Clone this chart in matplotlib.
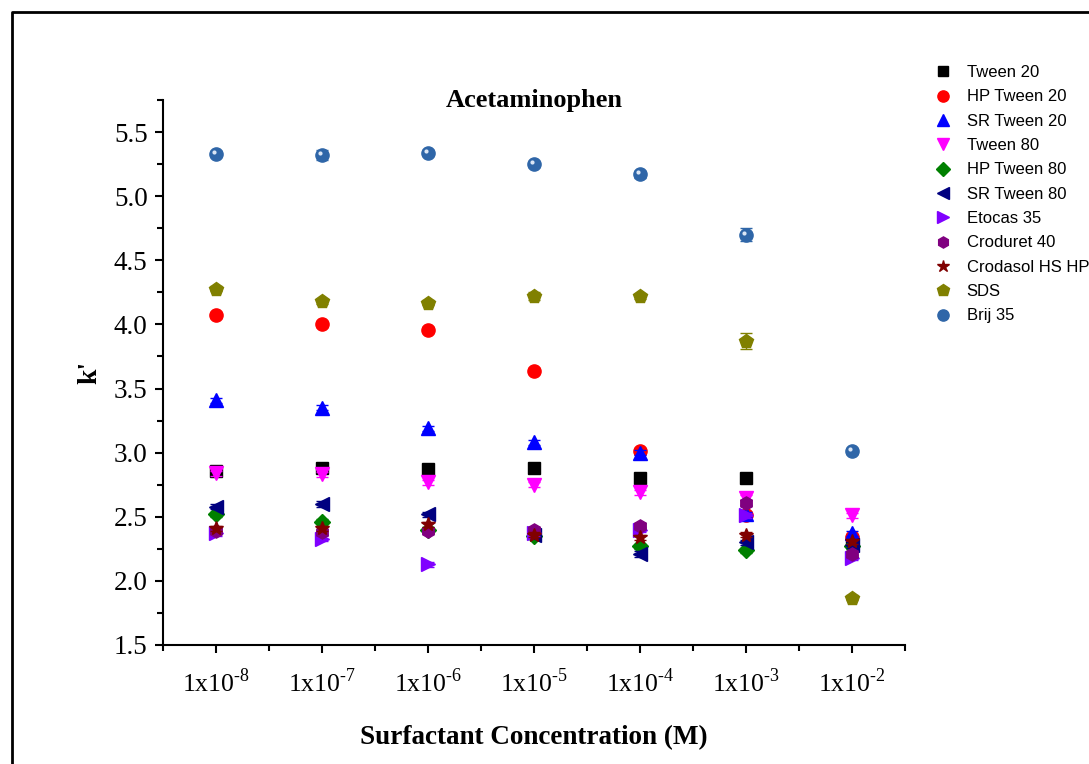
import numpy as np
import matplotlib
matplotlib.use("Agg")
import matplotlib.pyplot as plt
from matplotlib.lines import Line2D

plt.rcParams['font.family'] = ['Liberation Serif', 'DejaVu Serif']
plt.rcParams['mathtext.fontset'] = 'custom'
plt.rcParams['mathtext.rm'] = 'Liberation Serif'

conc_labels = [r'1x10$^{\text{-}8}$', r'1x10$^{\text{-}7}$', r'1x10$^{\text{-}6}$',
               r'1x10$^{\text{-}5}$', r'1x10$^{\text{-}4}$', r'1x10$^{\text{-}3}$',
               r'1x10$^{\text{-}2}$']
xpos = np.arange(1, 8)

names = ['Tween 20', 'HP Tween 20', 'SR Tween 20', 'Tween 80', 'HP Tween 80',
         'SR Tween 80', 'Etocas 35', 'Croduret 40', 'Crodasol HS HP', 'SDS', 'Brij 35']

tween20 = [2.86, 2.88, 2.875, 2.88, 2.80, 2.80, 2.30]
hp_tween20 = [4.07, 4.00, 3.96, 3.64, 3.01, 2.51, 2.34]
sr_tween20 = [3.41, 3.35, 3.19, 3.08, 3.00, 2.52, 2.37]
tween80 = [2.84, 2.83, 2.77, 2.75, 2.69, 2.65, 2.51]
hp_tween80 = [2.52, 2.46, 2.40, 2.35, 2.27, 2.24, 2.27]
sr_tween80 = [2.58, 2.60, 2.52, 2.36, 2.21, 2.30, 2.28]
etocas35 = [2.37, 2.33, 2.13, 2.37, 2.40, 2.51, 2.18]
croduret40 = [2.39, 2.38, 2.39, 2.40, 2.43, 2.61, 2.21]
crodasol = [2.41, 2.41, 2.44, 2.36, 2.34, 2.36, 2.31]
sds = [4.28, 4.18, 4.17, 4.22, 4.22, 3.87, 1.87]
brij35 = [5.33, 5.32, 5.34, 5.25, 5.17, 4.70, 3.01]

err_small = [0.02, 0.02, 0.02, 0.02, 0.02, 0.02, 0.02]
brij_err = [0.02, 0.04, 0.02, 0.02, 0.03, 0.05, 0.02]
sds_err = [0.02, 0.02, 0.02, 0.03, 0.02, 0.06, 0.02]

series = [tween20, hp_tween20, sr_tween20, tween80, hp_tween80, sr_tween80,
          etocas35, croduret40, crodasol, sds, brij35]
errs = [err_small] * 9 + [sds_err, brij_err]
markers = ['s', 'o', '^', 'v', 'D', '<', '>', 'h', '*', 'p', 'o']
colors = ['#000000', '#ff0000', '#0000ff', '#ff00ff', '#008000', '#000080',
          '#8000ff', '#800080', '#800000', '#808000', '#2f66a8']
sizes = [8.5, 9.5, 9.5, 9.5, 8, 9.5, 9.5, 9.5, 10.5, 10.5, 9.5]

fig = plt.figure(figsize=(10.89, 7.64), dpi=100)
ax = fig.add_axes([163/1089, 1-645/764, (905-163)/1089, (645-100)/764])

handles = []
for y, e, m, c, s, n in zip(series, errs, markers, colors, sizes, names):
    ax.errorbar(xpos, y, yerr=e, fmt='none', ecolor=c, elinewidth=1, capsize=4)
    h, = ax.plot(xpos, y, linestyle='none', marker=m, color=c, markersize=s,
                 markeredgecolor=c, label=n)
    handles.append(h)

# highlight on the Brij 35 spheres
ax.plot(xpos - 0.02, np.array(brij35) + 0.015, linestyle='none', marker='o',
        color='#dbe6f5', markersize=3, markeredgewidth=0)

ax.set_xlim(0.5, 7.5)
ax.set_ylim(1.5, 5.75)
ax.set_xticks(xpos)
ax.set_xticklabels(conc_labels)
ax.set_xticks(np.arange(0.5, 8.0, 1.0), minor=True)
ax.set_yticks(np.arange(1.5, 5.51, 0.5))
ax.set_yticks(np.arange(1.75, 5.76, 0.5), minor=True)
ax.tick_params(axis='both', which='major', direction='out', length=6, width=1.5)
ax.tick_params(axis='both', which='minor', direction='out', length=4, width=1.5)
ax.tick_params(axis='x', which='major', pad=11, labelsize=18.5)
ax.tick_params(axis='y', which='major', pad=5, labelsize=19.5)

for side in ['top', 'right']:
    ax.spines[side].set_visible(False)
for side in ['left', 'bottom']:
    ax.spines[side].set_linewidth(1.5)

ax.set_xlabel('Surfactant Concentration (M)', fontsize=19.5, fontweight='bold',
              labelpad=20)
ax.set_ylabel("k'", fontsize=20, fontweight='bold', labelpad=8)
ax.text(0.5, 1.0, 'Acetaminophen', transform=ax.transAxes, ha='center', va='center',
        fontsize=19, fontweight='bold')

fig.legend(handles=handles, loc='upper left', bbox_to_anchor=(935/1089, 1-65/764),
           frameon=False, prop={'family': 'Liberation Sans', 'size': 12},
           handlelength=1.0, handletextpad=0.9, labelspacing=0.56, numpoints=1,
           markerscale=0.85, borderpad=0, borderaxespad=0)

# outer frame of the figure
fig.add_artist(Line2D([11.5/1089, 11.5/1089, 1.01], [-0.01, 1-11.5/764, 1-11.5/764],
                      transform=fig.transFigure, color='black', linewidth=2))

fig.savefig('out.png', dpi=100)
